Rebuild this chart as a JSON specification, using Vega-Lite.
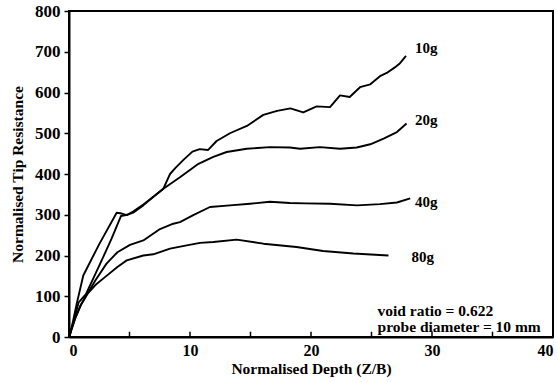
{
  "$schema": "https://vega.github.io/schema/vega-lite/v6.json",
  "width": 484,
  "height": 326,
  "autosize": {"type": "none"},
  "padding": {"left": 69, "top": 11, "right": 5, "bottom": 45},
  "background": "white",
  "config": {
    "view": {"stroke": "black", "strokeWidth": 2},
    "font": "Liberation Serif",
    "axis": {
      "domainColor": "black", "domainWidth": 2, "tickColor": "black", "tickWidth": 1.5,
      "labelFont": "Liberation Serif", "labelFontWeight": "bold", "labelFontSize": 17, "labelColor": "black",
      "titleFont": "Liberation Serif", "titleFontWeight": "bold", "titleFontSize": 15.5, "titleColor": "black",
      "grid": false
    }
  },
  "datasets": {
    "curves": [
      {"series": "10g", "x": 0, "y": 0}, {"series": "10g", "x": 0.08, "y": 4}, {"series": "10g", "x": 0.64, "y": 82}, {"series": "10g", "x": 1.18, "y": 151}, {"series": "10g", "x": 2.5, "y": 228}, {"series": "10g", "x": 3.94, "y": 305}, {"series": "10g", "x": 4.36, "y": 303}, {"series": "10g", "x": 4.77, "y": 299}, {"series": "10g", "x": 5.3, "y": 305}, {"series": "10g", "x": 6.14, "y": 323}, {"series": "10g", "x": 7, "y": 345}, {"series": "10g", "x": 7.8, "y": 364}, {"series": "10g", "x": 8.35, "y": 400}, {"series": "10g", "x": 8.8, "y": 415}, {"series": "10g", "x": 9.5, "y": 436}, {"series": "10g", "x": 10.2, "y": 455}, {"series": "10g", "x": 10.8, "y": 461}, {"series": "10g", "x": 11.5, "y": 459}, {"series": "10g", "x": 12.2, "y": 481}, {"series": "10g", "x": 13.3, "y": 500}, {"series": "10g", "x": 14.7, "y": 518}, {"series": "10g", "x": 16.06, "y": 545}, {"series": "10g", "x": 17.2, "y": 555}, {"series": "10g", "x": 18.3, "y": 561}, {"series": "10g", "x": 19.36, "y": 551}, {"series": "10g", "x": 20.47, "y": 566}, {"series": "10g", "x": 21.57, "y": 564}, {"series": "10g", "x": 22.4, "y": 593}, {"series": "10g", "x": 23.2, "y": 589}, {"series": "10g", "x": 24.05, "y": 613}, {"series": "10g", "x": 24.9, "y": 620}, {"series": "10g", "x": 25.7, "y": 640}, {"series": "10g", "x": 26.26, "y": 648}, {"series": "10g", "x": 26.9, "y": 661}, {"series": "10g", "x": 27.36, "y": 672}, {"series": "10g", "x": 27.85, "y": 690},
      {"series": "20g", "x": 0, "y": 0}, {"series": "20g", "x": 0.4, "y": 40}, {"series": "20g", "x": 0.8, "y": 85}, {"series": "20g", "x": 1.4, "y": 105}, {"series": "20g", "x": 2.5, "y": 175}, {"series": "20g", "x": 3.5, "y": 240}, {"series": "20g", "x": 4.3, "y": 297}, {"series": "20g", "x": 4.8, "y": 300}, {"series": "20g", "x": 5.3, "y": 308}, {"series": "20g", "x": 6.14, "y": 325}, {"series": "20g", "x": 7, "y": 345}, {"series": "20g", "x": 7.8, "y": 364}, {"series": "20g", "x": 9.17, "y": 392}, {"series": "20g", "x": 10.7, "y": 425}, {"series": "20g", "x": 11.93, "y": 442}, {"series": "20g", "x": 13.03, "y": 454}, {"series": "20g", "x": 14.69, "y": 462}, {"series": "20g", "x": 16.6, "y": 466}, {"series": "20g", "x": 18.26, "y": 465}, {"series": "20g", "x": 19.1, "y": 462}, {"series": "20g", "x": 20.74, "y": 466}, {"series": "20g", "x": 22.4, "y": 462}, {"series": "20g", "x": 23.78, "y": 465}, {"series": "20g", "x": 24.9, "y": 473}, {"series": "20g", "x": 26, "y": 487}, {"series": "20g", "x": 27.1, "y": 503}, {"series": "20g", "x": 27.9, "y": 524},
      {"series": "40g", "x": 0, "y": 0}, {"series": "40g", "x": 0.5, "y": 45}, {"series": "40g", "x": 1, "y": 80}, {"series": "40g", "x": 1.5, "y": 105}, {"series": "40g", "x": 2.2, "y": 140}, {"series": "40g", "x": 3.1, "y": 180}, {"series": "40g", "x": 4, "y": 208}, {"series": "40g", "x": 5.04, "y": 226}, {"series": "40g", "x": 6.14, "y": 237}, {"series": "40g", "x": 7.52, "y": 265}, {"series": "40g", "x": 8.62, "y": 278}, {"series": "40g", "x": 9.17, "y": 282}, {"series": "40g", "x": 10.27, "y": 299}, {"series": "40g", "x": 11.65, "y": 319}, {"series": "40g", "x": 13.3, "y": 323}, {"series": "40g", "x": 14.96, "y": 327}, {"series": "40g", "x": 16.6, "y": 332}, {"series": "40g", "x": 18.26, "y": 329}, {"series": "40g", "x": 19.5, "y": 328}, {"series": "40g", "x": 21.57, "y": 327}, {"series": "40g", "x": 23.8, "y": 323}, {"series": "40g", "x": 25.7, "y": 326}, {"series": "40g", "x": 27.1, "y": 330}, {"series": "40g", "x": 28.2, "y": 340},
      {"series": "80g", "x": 0, "y": 0}, {"series": "80g", "x": 0.5, "y": 45}, {"series": "80g", "x": 1, "y": 80}, {"series": "80g", "x": 1.5, "y": 105}, {"series": "80g", "x": 2.2, "y": 128}, {"series": "80g", "x": 3.1, "y": 150}, {"series": "80g", "x": 4, "y": 172}, {"series": "80g", "x": 4.77, "y": 188}, {"series": "80g", "x": 6.14, "y": 200}, {"series": "80g", "x": 6.97, "y": 203}, {"series": "80g", "x": 8.35, "y": 217}, {"series": "80g", "x": 9.73, "y": 225}, {"series": "80g", "x": 10.83, "y": 231}, {"series": "80g", "x": 11.93, "y": 233}, {"series": "80g", "x": 13.86, "y": 239}, {"series": "80g", "x": 16.06, "y": 229}, {"series": "80g", "x": 18.8, "y": 221}, {"series": "80g", "x": 21, "y": 211}, {"series": "80g", "x": 23.5, "y": 205}, {"series": "80g", "x": 26.4, "y": 200}
    ],
    "labels": [
      {"label": "10g", "x": 28.6, "y": 708},
      {"label": "20g", "x": 28.6, "y": 532},
      {"label": "40g", "x": 28.6, "y": 331},
      {"label": "80g", "x": 28.3, "y": 196}
    ],
    "notes": [
      {"label": "void ratio = 0.622", "x": 25.5, "y": 65},
      {"label": "probe diameter = 10 mm", "x": 25.5, "y": 25}
    ],
    "minorTicks": [
      {"t": 5}, {"t": 10}, {"t": 15}, {"t": 20}, {"t": 25}, {"t": 30}, {"t": 35}
    ]
  },
  "layer": [
    {
      "data": {"name": "curves"},
      "mark": {"type": "line", "color": "black", "strokeWidth": 1.9, "strokeJoin": "round"},
      "encoding": {
        "x": {"field": "x", "type": "quantitative", "scale": {"domain": [0, 40], "nice": false},
          "axis": {"title": "Normalised Depth (Z/B)", "values": [0, 10, 20, 30, 40], "tickSize": 0, "labelPadding": 5, "labelFontSize": 16, "titlePadding": 3}},
        "y": {"field": "y", "type": "quantitative", "scale": {"domain": [0, 800], "nice": false},
          "axis": {"title": "Normalised Tip Resistance", "values": [0, 100, 200, 300, 400, 500, 600, 700, 800], "tickSize": 5, "labelPadding": 4, "titlePadding": 9}},
        "detail": {"field": "series", "type": "nominal"},
        "order": {"field": "x", "type": "quantitative"}
      }
    },
    {
      "data": {"name": "minorTicks"},
      "mark": {"type": "rule", "color": "black", "strokeWidth": 1.5},
      "encoding": {
        "x": {"field": "t", "type": "quantitative"},
        "y": {"datum": 0},
        "y2": {"datum": 13}
      }
    },
    {
      "data": {"name": "labels"},
      "mark": {"type": "text", "align": "left", "baseline": "middle", "font": "Liberation Serif", "fontWeight": "bold", "fontSize": 15, "color": "black"},
      "encoding": {
        "x": {"field": "x", "type": "quantitative"},
        "y": {"field": "y", "type": "quantitative"},
        "text": {"field": "label"}
      }
    },
    {
      "data": {"name": "notes"},
      "mark": {"type": "text", "align": "left", "baseline": "middle", "font": "Liberation Serif", "fontWeight": "bold", "fontSize": 15.5, "color": "black"},
      "encoding": {
        "x": {"field": "x", "type": "quantitative"},
        "y": {"field": "y", "type": "quantitative"},
        "text": {"field": "label"}
      }
    }
  ]
}
